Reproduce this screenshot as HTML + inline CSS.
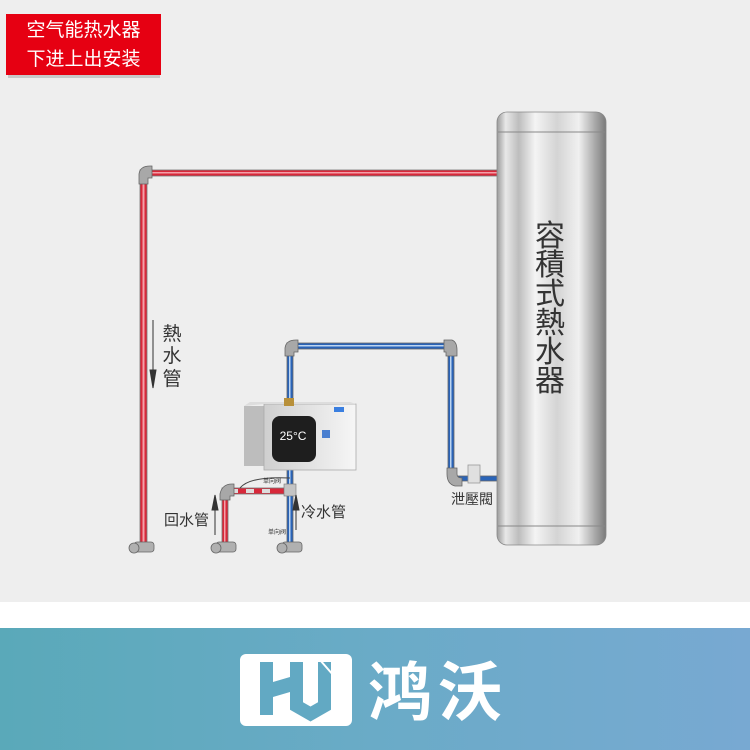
<!DOCTYPE html>
<html><head><meta charset="utf-8"><style>
html,body{margin:0;padding:0}
body{width:750px;height:750px;position:relative;overflow:hidden;background:#fff;font-family:"Liberation Sans","Noto Sans CJK SC",sans-serif}
.abs{position:absolute}
</style></head><body>
<div class="abs" style="left:0;top:0;width:750px;height:602px;background:#eeeeee"></div>
<div class="abs" style="left:0;top:628px;width:750px;height:122px;background:linear-gradient(90deg,#5aa9b9,#6aabc7 50%,#78a9d2)"></div>

<div class="abs" style="left:8px;top:16px;width:152px;height:62px;background:#c8c8c8"></div>
<div class="abs" style="left:6px;top:14px;width:155px;height:61px;background:#e60012;color:#fff;font-size:19px;line-height:29px;text-align:center;font-family:'Noto Sans CJK SC',sans-serif">空气能热水器<br>下进上出安装</div>

<svg class="abs" style="left:0;top:0" width="750" height="628" viewBox="0 0 750 628">
<defs>
<linearGradient id="tank" x1="0" x2="1">
<stop offset="0" stop-color="#9a9a9a"/><stop offset="0.08" stop-color="#e8e8e8"/><stop offset="0.2" stop-color="#bdbdbd"/><stop offset="0.35" stop-color="#f4f4f4"/><stop offset="0.55" stop-color="#d4d4d4"/><stop offset="0.75" stop-color="#f0f0f0"/><stop offset="0.9" stop-color="#a8a8a8"/><stop offset="1" stop-color="#7a7a7a"/>
</linearGradient>
<linearGradient id="dev" x1="0" x2="1"><stop offset="0" stop-color="#cfcfcf"/><stop offset="1" stop-color="#f6f6f6"/></linearGradient>
</defs>
<rect x="140" y="170" width="358" height="6" fill="#d8283a" stroke="#777" stroke-width="0.8"/>
<rect x="140" y="172" width="358" height="1.5" fill="#f3a0a8"/>
<rect x="140" y="172" width="7" height="375" fill="#d8283a" stroke="#777" stroke-width="0.8"/>
<rect x="142.5" y="172" width="2" height="375" fill="#f3a0a8"/>
<path d="M139 184 L139 174 Q140 166 150 166 L152 166 L152 178 L148 178 L148 184Z" fill="#a8a8a8" stroke="#666" stroke-width="0.8"/>
<rect x="287" y="343" width="164" height="6" fill="#2a64b8" stroke="#666" stroke-width="0.8"/>
<rect x="287" y="345" width="164" height="1.5" fill="#bcd4f0"/>
<rect x="287" y="343" width="6" height="202" fill="#2a64b8" stroke="#666" stroke-width="0.8"/>
<rect x="289" y="343" width="1.5" height="202" fill="#bcd4f0"/>
<rect x="448" y="343" width="6" height="132" fill="#2a64b8" stroke="#666" stroke-width="0.8"/>
<rect x="450" y="343" width="1.5" height="132" fill="#bcd4f0"/>
<rect x="454" y="476" width="44" height="5" fill="#2a64b8" stroke="#666" stroke-width="0.8"/>
<path d="M285 356 L285 348 Q286 340 296 340 L298 340 L298 352 L294 352 L294 356Z" fill="#a8a8a8" stroke="#666" stroke-width="0.8"/>
<path d="M444 340 L452 340 Q457 342 457 350 L457 356 L446 356 L446 352 L444 352Z" fill="#a8a8a8" stroke="#666" stroke-width="0.8"/>
<path d="M447 468 L457 468 L457 474 Q457 478 462 478 L462 486 L455 486 Q447 484 447 474Z" fill="#a8a8a8" stroke="#666" stroke-width="0.8"/>
<rect x="468" y="465" width="12" height="18" fill="#e0e0e0" stroke="#999" stroke-width="0.8"/>
<rect x="497" y="112" width="109" height="433" rx="10" fill="url(#tank)" stroke="#888" stroke-width="0.8"/>
<line x1="498" y1="132" x2="605" y2="132" stroke="#888"/>
<line x1="498" y1="526" x2="605" y2="526" stroke="#888"/>
<g font-size="30" fill="#333" text-anchor="middle" font-family="Noto Sans CJK TC, sans-serif">
<text x="550" y="246">容</text><text x="550" y="275">積</text><text x="550" y="304">式</text><text x="550" y="333">熱</text><text x="550" y="362">水</text><text x="550" y="391">器</text>
</g>
<text x="472" y="504" font-size="14" fill="#333" text-anchor="middle" font-family="Noto Sans CJK TC, sans-serif">泄壓閥</text>
<rect x="244" y="406" width="22" height="60" fill="#bdbdbd"/>
<rect x="264" y="404" width="92" height="66" fill="url(#dev)" stroke="#aaa" stroke-width="0.8"/>
<polygon points="244,406 264,404 356,404 350,402 250,402" fill="#ddd"/>
<rect x="272" y="416" width="44" height="46" rx="8" fill="#1e1e1e"/>
<text x="293" y="440" font-size="12" fill="#fff" text-anchor="middle">25°C</text>
<rect x="322" y="430" width="8" height="8" fill="#4a7fd0"/>
<rect x="334" y="407" width="10" height="5" fill="#3a7fe0"/>
<rect x="284" y="398" width="10" height="8" fill="#b8903a"/>
<rect x="222" y="488" width="68" height="6" fill="#d8283a" stroke="#777" stroke-width="0.8"/>
<rect x="230" y="489" width="8" height="4" fill="#ddd"/><rect x="246" y="489" width="8" height="4" fill="#ddd"/><rect x="262" y="489" width="8" height="4" fill="#ddd"/>
<rect x="222" y="490" width="6" height="56" fill="#d8283a" stroke="#777" stroke-width="0.8"/>
<rect x="224" y="492" width="1.5" height="54" fill="#f3a0a8"/>
<path d="M220 500 L220 494 Q222 484 232 484 L234 484 L234 496 L230 496 L230 500Z" fill="#a8a8a8" stroke="#666" stroke-width="0.8"/>
<rect x="284" y="484" width="12" height="12" fill="#c4c4c4" stroke="#777" stroke-width="0.6"/>
<path d="M240 488 Q250 476 290 478" stroke="#444" fill="none"/>
<text x="263" y="483" font-size="6" fill="#333">单向阀</text>
<text x="268" y="534" font-size="6" fill="#333">单向阀</text>
<g fill="#b0b0b0" stroke="#666" stroke-width="0.8">
<rect x="134" y="542" width="20" height="10" rx="3"/><circle cx="134" cy="548" r="5"/>
<rect x="216" y="542" width="20" height="10" rx="3"/><circle cx="216" cy="548" r="5"/>
<rect x="282" y="542" width="20" height="10" rx="3"/><circle cx="282" cy="548" r="5"/>
</g>
<g stroke="#333" stroke-width="1" fill="#333">
<line x1="153" y1="320" x2="153" y2="382"/><polygon points="150,370 156,370 153,388"/>
<line x1="215" y1="535" x2="215" y2="500"/><polygon points="212,510 218,510 215,495"/>
<line x1="296" y1="530" x2="296" y2="500"/><polygon points="293,510 299,510 296,495"/>
</g>
<g font-size="19" fill="#333" font-family="Noto Sans CJK TC, sans-serif" text-anchor="middle">
<text x="172" y="340">熱</text><text x="172" y="362">水</text><text x="172" y="385">管</text>
</g>
<text x="164" y="525" font-size="15" fill="#333" font-family="Noto Sans CJK SC, sans-serif">回水管</text>
<text x="301" y="517" font-size="15" fill="#333" font-family="Noto Sans CJK SC, sans-serif">冷水管</text>
</svg>

<svg class="abs" style="left:240px;top:650px" width="120" height="80">
<rect x="0" y="4" width="112" height="72" rx="6" fill="#fff"/>
<g fill="#62a9c3">
<polygon points="20,12 33,12 33,65 20,65"/>
<polygon points="33,32 50,27 50,42 33,47"/>
</g>
<path d="M56.5 12 V56 L70.5 64 L84.5 56 V12" stroke="#62a9c3" stroke-width="13" fill="none" stroke-linejoin="miter" stroke-miterlimit="10"/>
<line x1="80" y1="10" x2="94" y2="26" stroke="#fff" stroke-width="2"/>
</svg>
<div class="abs" style="left:368px;top:648px;font-size:64px;line-height:80px;color:#fff;font-weight:bold;font-family:'Noto Sans CJK SC',sans-serif;letter-spacing:6px">鸿沃</div>
</body></html>
